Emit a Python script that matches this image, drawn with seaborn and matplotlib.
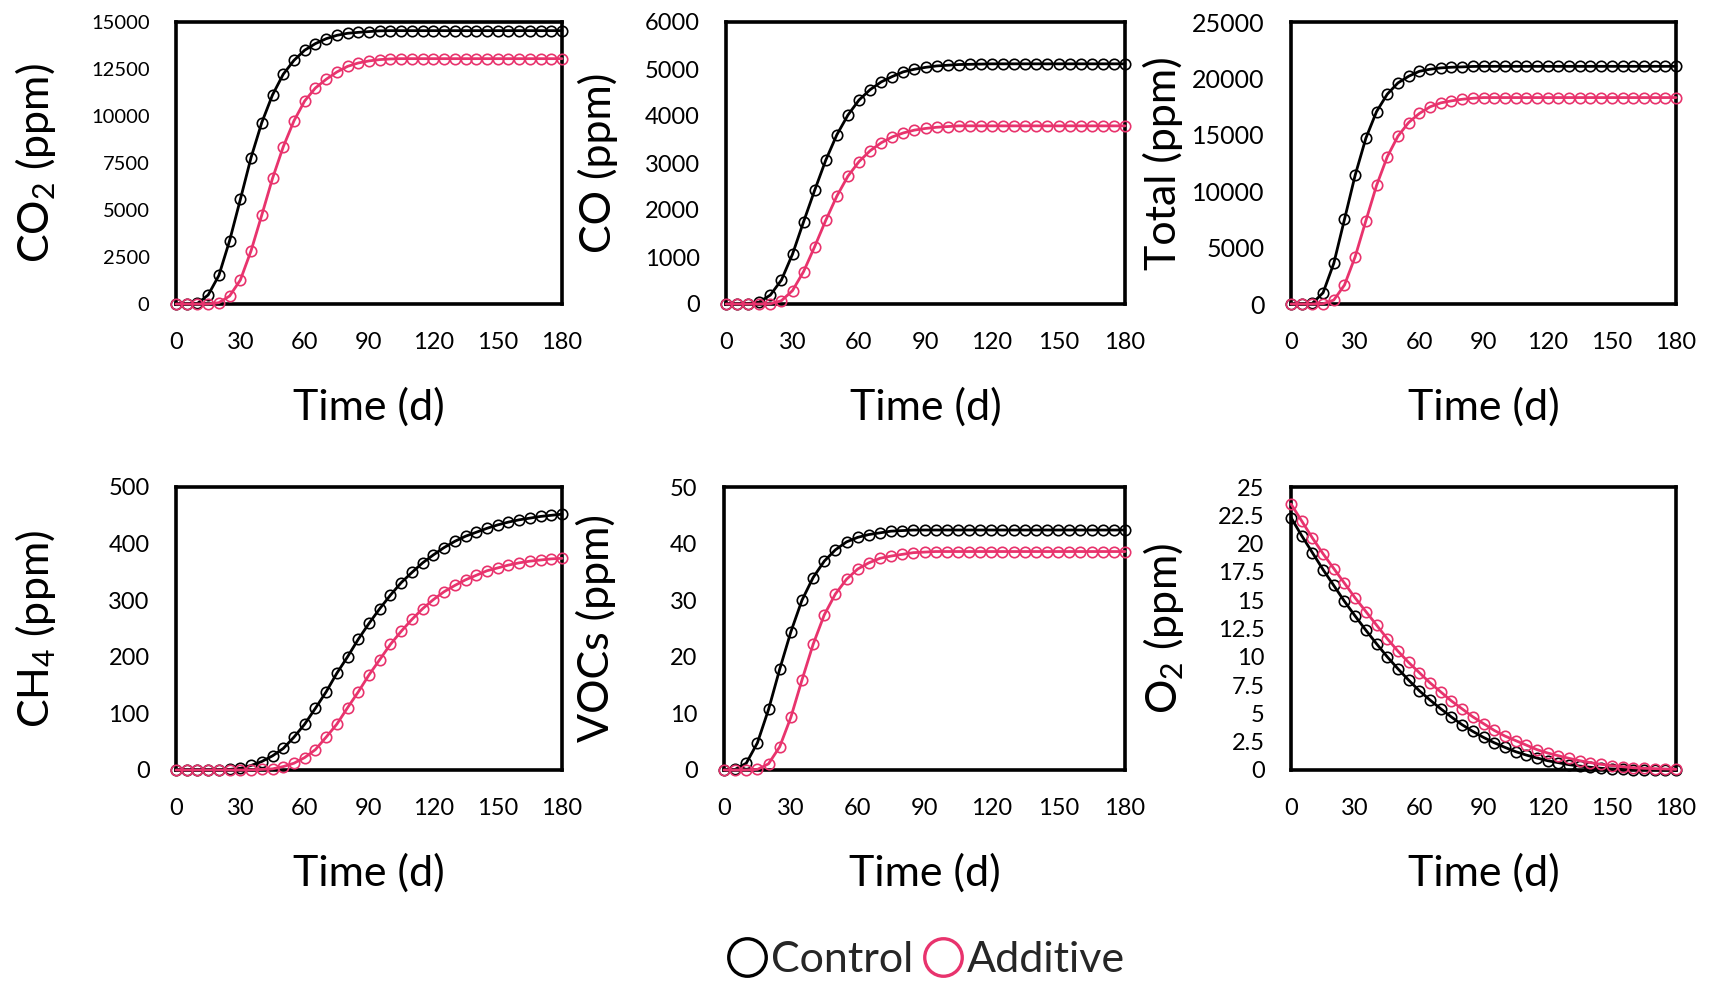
import numpy as np
import pandas as pd
import matplotlib
matplotlib.use("Agg")
import matplotlib.pyplot as plt
from matplotlib.lines import Line2D
import seaborn as sns

# ---------------- data ----------------
days = list(range(0, 181, 5))

co2_control = [0, 0, 30, 480, 1520, 3370, 5560, 7790, 9650, 11120, 12220, 12960, 13500,
               13850, 14110, 14290, 14400, 14450, 14490, 14530, 14540, 14540, 14540, 14540,
               14540, 14540, 14540, 14540, 14540, 14540, 14540, 14540, 14540, 14540, 14540,
               14540, 14540]
co2_additive = [0, 0, 0, 0, 70, 425, 1275, 2830, 4730, 6680, 8360, 9740, 10800, 11490,
                11950, 12340, 12640, 12820, 12930, 13000, 13035, 13050, 13050, 13050, 13050,
                13050, 13050, 13050, 13050, 13050, 13050, 13050, 13050, 13050, 13050, 13050,
                13050]

co_control = [0, 0, 10, 42, 190, 510, 1060, 1750, 2420, 3060, 3600, 4020, 4340, 4560, 4725,
              4840, 4940, 4995, 5035, 5065, 5080, 5095, 5100, 5105, 5110, 5110, 5110, 5110,
              5110, 5110, 5110, 5110, 5110, 5110, 5110, 5110, 5110]
co_additive = [0, 0, 0, 0, 5, 70, 285, 690, 1220, 1780, 2295, 2720, 3030, 3260, 3430, 3555,
               3640, 3700, 3735, 3760, 3775, 3790, 3790, 3790, 3790, 3790, 3790, 3790, 3790,
               3790, 3790, 3790, 3790, 3790, 3790, 3790, 3790]

total_control = [0, 0, 60, 1000, 3600, 7500, 11420, 14700, 17060, 18600, 19600, 20190, 20630,
                 20810, 20930, 20990, 21020, 21060, 21070, 21070, 21070, 21070, 21070, 21070,
                 21070, 21070, 21070, 21070, 21070, 21070, 21070, 21070, 21070, 21070, 21070,
                 21070, 21070]
total_additive = [0, 0, 0, 20, 350, 1680, 4190, 7380, 10510, 13050, 14880, 16090, 16890,
                  17480, 17830, 18010, 18150, 18240, 18300, 18300, 18300, 18300, 18300, 18300,
                  18300, 18300, 18300, 18300, 18300, 18300, 18300, 18300, 18300, 18300, 18300,
                  18300, 18300]

ch4_control = [0, 0, 0, 0, 0, 1, 3, 8, 15, 25, 38, 58, 81, 109, 138, 171, 200, 231, 259, 285,
               309, 331, 349, 366, 380, 393, 404, 413, 420, 427, 433, 438, 442, 445, 448, 450,
               452]
ch4_additive = [0, 0, 0, 0, 0, 0, 0, 0, 1, 2, 6, 12, 22, 36, 58, 81, 110, 138, 168, 195, 222,
                245, 266, 285, 301, 315, 326, 336, 344, 352, 357, 362, 366, 369, 371, 373, 374]

voc_control = [0, 0.1, 1.2, 4.8, 10.7, 17.8, 24.4, 30.0, 34.0, 36.9, 38.9, 40.3, 41.1, 41.6,
               41.9, 42.2, 42.3, 42.4, 42.4, 42.4, 42.4, 42.4, 42.4, 42.4, 42.4, 42.4, 42.4,
               42.4, 42.4, 42.4, 42.4, 42.4, 42.4, 42.4, 42.4, 42.4, 42.4]
voc_additive = [0, 0, 0, 0.1, 1.1, 4.1, 9.3, 15.9, 22.2, 27.4, 31.1, 33.7, 35.5, 36.6, 37.4,
                37.8, 38.1, 38.4, 38.5, 38.6, 38.6, 38.6, 38.6, 38.6, 38.6, 38.6, 38.6, 38.6,
                38.6, 38.6, 38.6, 38.6, 38.6, 38.6, 38.6, 38.6, 38.6]

o2_control = [22.3, 20.7, 19.2, 17.7, 16.3, 14.9, 13.6, 12.35, 11.15, 10.0, 8.94, 7.94, 7.0,
              6.18, 5.41, 4.68, 4.0, 3.41, 2.88, 2.41, 2.0, 1.62, 1.32, 1.06, 0.82, 0.65,
              0.47, 0.35, 0.24, 0.15, 0.09, 0.06, 0.03, 0.02, 0.01, 0.0, 0.0]
o2_additive = [23.5, 22.0, 20.5, 19.1, 17.8, 16.5, 15.2, 14.0, 12.8, 11.6, 10.5, 9.5, 8.6,
               7.7, 6.9, 6.1, 5.4, 4.7, 4.1, 3.5, 3.0, 2.6, 2.2, 1.8, 1.5, 1.26, 1.03, 0.82,
               0.65, 0.5, 0.38, 0.29, 0.2, 0.15, 0.12, 0.09, 0.06]

series_names = ["Control", "Additive"]
x_ticks = [0, 30, 60, 90, 120, 150, 180]
x_label = "Time (d)"

panels = [
    ("CO$_2$ (ppm)", co2_control, co2_additive, [0, 2500, 5000, 7500, 10000, 12500, 15000]),
    ("CO (ppm)", co_control, co_additive, [0, 1000, 2000, 3000, 4000, 5000, 6000]),
    ("Total (ppm)", total_control, total_additive, [0, 5000, 10000, 15000, 20000, 25000]),
    ("CH$_4$ (ppm)", ch4_control, ch4_additive, [0, 100, 200, 300, 400, 500]),
    ("VOCs (ppm)", voc_control, voc_additive, [0, 10, 20, 30, 40, 50]),
    ("O$_2$ (ppm)", o2_control, o2_additive,
     [0, 2.5, 5, 7.5, 10, 12.5, 15, 17.5, 20, 22.5, 25]),
]

# ---------------- style ----------------
sns.set_theme(style="white")
plt.rcParams["font.family"] = ["Lato", "DejaVu Sans"]
plt.rcParams["mathtext.default"] = "regular"

colors = {"Control": "#000000", "Additive": "#E8336D"}

W, H = 1711, 983
fig = plt.figure(figsize=(W / 100, H / 100), dpi=100)

# axes boxes in pixel coordinates (left, right, top, bottom)
boxes = [
    (176, 562, 22, 304), (726, 1125, 22, 304), (1291, 1676, 22, 304),
    (176, 562, 487, 770), (724, 1125, 487, 770), (1291, 1676, 487, 770),
]
ylabel_x = [-0.363, -0.32, -0.332, -0.363, -0.32, -0.33]
ytick_size = [14.5, 17, 18, 17, 17, 17]

for i, (ylab, ctrl, addv, yt) in enumerate(panels):
    l, r, t, b = boxes[i]
    ax = fig.add_axes([l / W, 1 - b / H, (r - l) / W, (b - t) / H])
    df = pd.DataFrame({"Time": days * 2,
                       "Value": list(ctrl) + list(addv),
                       "Group": ["Control"] * len(days) + ["Additive"] * len(days)})
    for g in series_names:
        sub = df[df["Group"] == g]
        sns.lineplot(data=sub, x="Time", y="Value", ax=ax, color=colors[g],
                     linewidth=2.0, marker="o", markersize=7.5,
                     markerfacecolor="none", markeredgecolor=colors[g],
                     markeredgewidth=1.2, clip_on=False, legend=False, zorder=3)
    ax.set_xlim(0, 180)
    ax.set_ylim(yt[0], yt[-1])
    ax.set_xticks(x_ticks)
    ax.set_yticks(yt)
    ax.set_yticklabels([f"{v:g}" for v in yt])
    ax.tick_params(axis="both", length=0, colors="black")
    ax.tick_params(axis="x", pad=20, labelsize=17)
    ax.tick_params(axis="y", pad=19, labelsize=ytick_size[i])
    for s in ax.spines.values():
        s.set_visible(True)
        s.set_color("black")
        s.set_linewidth(2.6)
    ax.set_xlabel(x_label, fontsize=31, color="black", va="center")
    ax.set_ylabel(ylab, fontsize=31, color="black", va="center")
    ax.xaxis.set_label_coords(0.5, -0.365)
    ax.yaxis.set_label_coords(ylabel_x[i], 0.5)
    ax.grid(False)

handles = [Line2D([], [], linestyle="none", marker="o", markersize=27,
                  markerfacecolor="none", markeredgecolor=colors[g],
                  markeredgewidth=2.4, label=g) for g in series_names]
fig.legend(handles=handles, loc="center", bbox_to_anchor=(925 / W, 1 - 960 / H),
           ncol=2, frameon=False, fontsize=31, handletextpad=0.05,
           columnspacing=0.2, handlelength=1.0, borderaxespad=0)

fig.savefig("out.png", dpi=100)
